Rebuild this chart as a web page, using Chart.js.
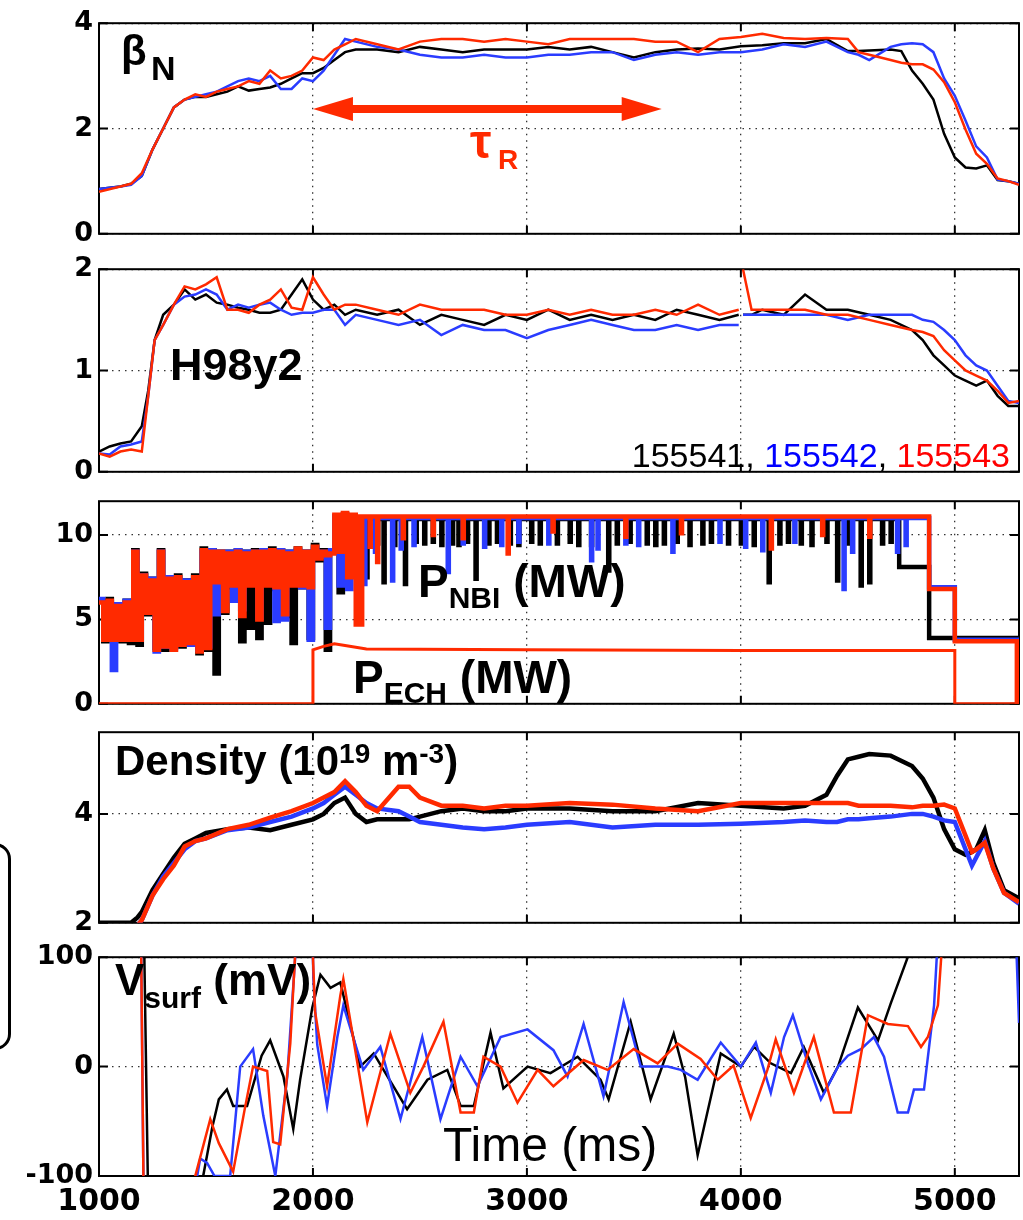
<!DOCTYPE html>
<html>
<head>
<meta charset="utf-8">
<script src="https://cdn.jsdelivr.net/npm/chart.js@4.4.1/dist/chart.umd.min.js"></script>
<style>
  body { margin: 0; background: #fff; width: 1023px; height: 1220px; overflow: hidden; position: relative;
         font-family: "Liberation Sans", Arial, sans-serif; }
  canvas { position: absolute; left: 0; }
  .lbl { position: absolute; line-height: 1; font-weight: bold; white-space: nowrap; color: #000; z-index: 5; }
  .bracket { position: absolute; left: -40px; top: 843px; width: 51px; height: 207px; box-sizing: border-box;
             border: 3px solid #000; border-radius: 16px; }
</style>
</head>
<body>
<div class="bracket"></div>

<div class="lbl" style="left:121px;top:30px;font-size:42px">β</div>
<div class="lbl" style="left:151px;top:51px;font-size:34px">N</div>
<div class="lbl" style="left:470px;top:118px;font-size:48px;color:#ff2a00">τ</div>
<div class="lbl" style="left:498px;top:146px;font-size:28px;color:#ff2a00">R</div>

<div class="lbl" style="left:170px;top:342px;font-size:45px">H98y2</div>
<div class="lbl" style="right:13px;top:438px;font-size:34px;font-weight:normal"><span style="color:#000">155541</span>, <span style="color:#0000ff">155542</span>, <span style="color:#ff0000">155543</span></div>

<div class="lbl" style="left:418px;top:558px;font-size:46px">P<span style="font-size:30px;position:relative;top:11px">NBI</span> (MW)</div>
<div class="lbl" style="left:353px;top:654px;font-size:46px">P<span style="font-size:30px;position:relative;top:10px">ECH</span> (MW)</div>

<div class="lbl" style="left:115px;top:740px;font-size:42px">Density (10<span style="font-size:28px;position:relative;top:-12px">19</span> m<span style="font-size:28px;position:relative;top:-12px">-3</span>)</div>

<div class="lbl" style="left:115px;top:958px;font-size:44px">V<span style="font-size:30px;position:relative;top:13px">surf</span> (mV)</div>
<div class="lbl" style="left:443px;top:1121px;font-size:48px;font-weight:normal">Time (ms)</div>

<script>
// time axis
var xMin = 1000, xMax = 5300;
var xTicks = [1000, 2000, 3000, 4000, 5000];

// beta_N
var betaTime = [1000,1100,1150,1200,1250,1300,1350,1400,1450,1500,1550,1600,1650,1700,1750,1800,1850,1900,1950,2000,2050,2100,2150,2200,
  2300,2400,2500,2600,2700,2800,2900,3000,3100,3200,3300,3400,3500,3600,3700,3800,3900,4000,4100,4200,4300,4400,4500,
  4550,4600,4700,4750,4800,4850,4900,4950,5000,5050,5100,5150,5200,5250,5300];
var betaBlack = [0.85,0.9,0.95,1.1,1.6,2.0,2.4,2.55,2.6,2.6,2.65,2.7,2.8,2.72,2.75,2.78,2.85,2.95,3.05,3.05,3.15,3.3,3.45,3.5,
  3.5,3.45,3.55,3.5,3.45,3.5,3.5,3.5,3.55,3.5,3.55,3.45,3.35,3.45,3.5,3.52,3.5,3.56,3.58,3.62,3.62,3.7,3.47,
  3.47,3.48,3.5,3.47,3.1,2.85,2.55,1.9,1.45,1.26,1.24,1.3,1.02,1.0,0.95];
var betaBlue = [0.85,0.9,0.93,1.1,1.6,2.0,2.4,2.55,2.6,2.65,2.7,2.8,2.9,2.95,2.9,3.0,2.75,2.75,2.95,2.9,3.1,3.4,3.7,3.65,
  3.55,3.5,3.4,3.35,3.35,3.4,3.35,3.35,3.4,3.4,3.45,3.45,3.3,3.4,3.45,3.4,3.45,3.45,3.5,3.6,3.55,3.65,3.45,
  3.4,3.3,3.55,3.6,3.62,3.6,3.45,2.95,2.62,2.15,1.66,1.45,1.03,1.0,0.95];
var betaRed = [0.8,0.9,0.95,1.15,1.6,2.0,2.4,2.55,2.65,2.6,2.7,2.75,2.8,2.9,2.85,3.1,2.95,3.0,3.1,3.35,3.3,3.5,3.6,3.7,
  3.6,3.5,3.65,3.7,3.7,3.65,3.7,3.65,3.6,3.7,3.7,3.7,3.7,3.65,3.65,3.45,3.7,3.74,3.8,3.72,3.7,3.72,3.7,
  3.45,3.4,3.3,3.25,3.22,3.22,3.12,2.88,2.5,1.98,1.52,1.33,1.05,1.0,0.93];
var betaTicks = [0, 2, 4];
var tauStart = 2000, tauEnd = 3630, tauLevel = 2.37;

// H98y2
var hTime = [1000,1050,1100,1150,1200,1230,1260,1300,1350,1400,1450,1500,1550,1600,1650,1700,1750,1800,1850,1900,1950,2000,2050,2100,2150,2200,
  2300,2400,2500,2600,2700,2800,2900,3000,3100,3200,3300,3400,3500,3600,3700,3800,3900,3990,4000,4010,4050,
  4100,4200,4300,4400,4500,4600,4700,4800,4850,4900,4950,5000,5050,5100,5150,5200,5250,5300];
var hBlack = [0.2,0.25,0.28,0.3,0.45,0.8,1.3,1.55,1.65,1.8,1.7,1.75,1.67,1.65,1.62,1.6,1.57,1.57,1.6,1.75,1.9,1.7,1.6,1.65,1.55,1.6,
  1.55,1.6,1.45,1.55,1.5,1.45,1.55,1.5,1.6,1.5,1.55,1.5,1.55,1.5,1.6,1.55,1.5,1.55,null,1.55,1.55,
  1.6,1.55,1.75,1.6,1.6,1.55,1.5,1.4,1.3,1.15,1.05,0.95,0.9,0.85,0.9,0.75,0.65,0.65];
var hBlue = [0.18,0.17,0.25,0.27,0.3,0.75,1.3,1.45,1.65,1.73,1.75,1.8,1.75,1.6,1.65,1.62,1.65,1.67,1.6,1.55,1.57,1.57,1.6,1.6,1.45,1.55,
  1.5,1.45,1.5,1.35,1.45,1.4,1.4,1.32,1.4,1.45,1.5,1.45,1.4,1.4,1.45,1.4,1.45,1.45,null,1.55,1.55,
  1.55,1.55,1.55,1.55,1.5,1.55,1.55,1.55,1.5,1.48,1.4,1.3,1.15,1.05,1.0,0.85,0.7,0.68];
var hRed = [0.18,0.15,0.2,0.22,0.2,0.75,1.3,1.45,1.65,1.83,1.8,1.85,1.92,1.6,1.6,1.57,1.65,1.7,1.8,1.62,1.6,1.92,1.75,1.6,1.65,1.65,
  1.6,1.55,1.65,1.6,1.6,1.6,1.55,1.55,1.6,1.55,1.6,1.55,1.55,1.6,1.55,1.65,1.55,1.6,null,2.0,1.6,
  1.6,1.6,1.6,1.55,1.55,1.5,1.45,1.4,1.38,1.34,1.2,1.1,1.0,0.95,0.9,0.8,0.68,0.7];
var hTicks = [0, 1, 2];

// P_NBI: modulated phase, then plateau with dips, then step-down tail
var nbiTime = [1000,1020,1040,1060,1080,1100,1120,1140,1160,1180,1200,1220,1240,1260,1280,1300,1320,1340,1360,1380,
  1400,1420,1440,1460,1480,1500,1520,1540,1560,1580,1600,1620,1640,1660,1680,1700,1720,1740,1760,1780,
  1800,1820,1840,1860,1880,1900,1920,1940,1960,1980,2000,2020,2040,2060,2080,2100,2120,2140,2160,2180,2200];
var nbiRedMod = [6.0,3.8,6.1,3.8,5.8,3.8,6.0,3.8,9.0,3.8,7.6,5.4,7.3,3.2,9.0,3.4,7.4,3.2,7.5,3.5,
  7.2,3.6,7.5,3.1,9.1,3.3,9.0,7.2,9.0,5.5,8.9,7.0,9.0,5.2,8.9,7.0,9.0,5.0,9.0,7.0,
  9.1,6.9,9.0,5.3,8.9,7.0,9.2,7.0,9.0,6.9,9.3,8.6,9.0,8.8,8.9,11.2,9.0,11.3,7.5,11.2,4.7];
var nbiBlueMod = [6.2,3.8,6.0,2.0,5.9,3.8,6.1,3.8,9.0,3.9,7.6,5.5,7.4,3.1,9.0,3.4,7.5,3.3,7.4,3.6,
  7.3,3.5,7.4,3.2,9.0,3.4,9.1,5.3,9.0,7.1,9.0,6.1,9.1,5.6,9.0,7.1,9.0,5.1,9.1,7.2,
  9.0,4.9,9.1,5.0,9.0,7.1,9.1,6.9,9.0,3.8,9.2,8.7,9.0,4.5,9.1,11.1,7.0,11.2,6.8,11.1,9.5];
var nbiBlackMod = [6.1,3.7,6.2,3.8,5.9,3.7,6.1,3.6,9.1,3.5,7.7,5.3,7.4,3.3,9.1,3.2,7.5,3.5,7.6,3.4,
  7.3,3.7,7.6,3.0,9.2,3.2,9.1,1.8,9.0,5.4,9.0,6.9,9.1,3.7,9.0,4.5,9.1,3.9,9.0,4.8,
  9.2,6.8,9.1,5.2,9.0,3.6,9.2,6.9,9.0,3.9,9.4,8.5,9.1,3.2,9.0,11.1,6.6,11.2,9.0,11.1,9.8];
var nbiPlateauStart = 2210;
var nbiRedPlateau = 11.1, nbiBluePlateau = 11.0, nbiBlackPlateau = 10.95;
var redDipTime = [2225,2265,2300,2420,2560,2700,2910,3120,3460,3720,4140,4380,4600];
var redDipVal  = [4.7,9.3,8.4,9.8,10.0,9.8,8.9,10.2,9.9,10.1,9.2,10.0,9.9];
var blueDipTime = [2240,2290,2370,2410,2470,2630,2700,2800,2880,2960,3100,3300,3330,3460,3520,3680,3900,4020,4100,4250,4480,4520,4730,4770];
var blueDipVal  = [7.1,9.0,7.3,9.2,9.4,7.8,9.5,9.3,9.4,9.6,9.5,8.5,9.2,9.5,9.4,9.0,9.6,9.3,9.1,9.6,6.8,9.0,9.0,9.4];
var blackDipTime = [2250,2300,2330,2380,2430,2480,2520,2560,2600,2650,2680,2720,2760,2820,2860,2920,2960,3020,3060,3140,
  3200,3240,3300,3380,3420,3480,3560,3600,3640,3700,3760,3820,3860,3940,4000,4060,4130,4180,4220,4280,4330,4400,4450,4500,4560,4600,4660,4700];
var blackDipVal  = [7.5,9.5,7.2,9.4,7.1,9.6,9.5,9.6,9.4,9.5,9.4,9.6,7.4,9.5,9.6,9.5,9.4,9.6,9.5,9.5,
  9.6,9.4,9.4,7.9,9.5,9.6,9.5,9.4,9.5,9.6,9.4,9.5,9.6,9.5,9.5,9.4,7.2,9.5,9.6,9.5,9.4,9.6,7.3,9.5,7.0,7.2,9.5,9.6];
var redTailTime = [4880,4880,5000,5000,5290,5290,5300];
var redTailVal  = [11.1,6.8,6.8,3.7,3.7,0,0];
var blueTailTime = [4880,4880,5000,5000,5300];
var blueTailVal  = [11.0,6.9,6.9,3.8,3.8];
var blackTailTime = [4740,4740,4880,4880,5300];
var blackTailVal  = [10.95,8.1,8.1,3.9,4.0];
var dipWidth = 5;

// P_ECH
var echTime = [1000,2000,2000,2050,2100,2150,2250,3000,4000,5000,5000,5300];
var echPower = [0,0,3.2,3.4,3.55,3.45,3.25,3.2,3.15,3.15,0,0];
var pTicks = [0, 5, 10];

// density
var nTime = [1000,1150,1180,1200,1250,1300,1350,1400,1450,1500,1600,1700,1800,1900,2000,2050,2100,2150,2200,2250,2300,
  2400,2450,2500,2600,2700,2800,2900,3000,3200,3400,3600,3800,4000,4200,4300,4400,4450,4500,4550,4600,4700,4800,
  4850,4900,4950,5000,5050,5080,5100,5140,5180,5230,5300];
var nBlack = [2.0,2.0,2.1,2.2,2.6,2.9,3.2,3.45,3.55,3.65,3.72,3.75,3.7,3.8,3.9,4.0,4.2,4.3,4.0,3.85,3.9,
  3.9,3.9,3.95,4.05,4.1,4.05,4.05,4.1,4.1,4.05,4.05,4.2,4.15,4.1,4.15,4.35,4.7,5.0,5.05,5.1,5.07,4.88,
  4.65,4.3,3.72,3.35,3.25,3.3,3.35,3.7,3.1,2.6,2.45];
var nBlue = [1.8,1.9,1.95,2.05,2.5,2.85,3.1,3.35,3.5,3.55,3.7,3.75,3.85,3.95,4.1,4.2,4.35,4.5,4.35,4.2,4.1,
  4.05,3.95,3.85,3.8,3.75,3.72,3.75,3.8,3.85,3.75,3.8,3.8,3.82,3.85,3.88,3.85,3.85,3.9,3.9,3.92,3.95,4.0,
  4.0,3.95,3.88,3.85,3.35,3.05,3.2,3.5,3.0,2.55,2.35];
var nRed = [1.8,1.9,1.95,2.05,2.5,2.8,3.05,3.4,3.5,3.55,3.72,3.8,3.93,4.05,4.2,4.3,4.4,4.6,4.4,4.15,4.05,
  4.5,4.5,4.3,4.15,4.15,4.1,4.15,4.15,4.2,4.17,4.1,4.05,4.2,4.2,4.2,4.2,4.2,4.2,4.15,4.15,4.15,4.12,
  4.15,4.15,4.17,4.1,3.6,3.3,3.35,3.47,3.0,2.55,2.38];
var nTicks = [2, 4];

// surface voltage (each shot sampled at its own turning points)
var vBlackTime = [1000,1200,1240,1470,1487,1530,1560,1598,1627,1692,1760,1800,1862,1908,1940,1997,2035,2082,2128,2221,2284,2330,
  2440,2535,2628,2690,2752,2830,2890,3003,3110,3237,3344,3382,3485,3578,3686,3740,3798,3906,4000,4062,4140,
  4234,4294,4388,4454,4547,4641,4701,4780,4850,5300];
var vBlack = [250,250,-250,-250,-100,-55,-30,-21,-36,-36,10,24,-9,-57,-12,54,84,72,77,0,12,-3,
  -39,-12,-3,-36,-36,31,-20,0,-6,9,-12,-30,41,-30,30,-10,-81,12,0,18,3,
  -6,18,-24,0,54,24,58,100,200,200];
var vBlueTime = [1000,1190,1215,1440,1459,1473,1505,1540,1613,1660,1720,1768,1824,1880,1917,1930,1990,2002,2020,2066,2114,2142,
  2235,2315,2409,2511,2596,2690,2769,2877,3003,3124,3190,3265,3358,3452,3532,3658,3719,3798,3906,4000,4070,
  4140,4202,4243,4313,4374,4454,4500,4561,4622,4669,4733,4781,4809,4856,4903,4930,5280,5300];
var vBlue = [250,250,-250,-250,-100,-84,-88,-100,-100,0,16,-45,-100,-9,100,200,200,80,20,-36,27,56,
  -3,18,-48,27,-48,9,-18,27,34,15,-9,39,-27,59,0,0,-3,-12,22,0,22,
  -24,27,47,3,-30,0,10,16,27,9,-42,-42,-21,-21,56,150,150,40];
var vRedTime = [1000,1190,1215,1430,1450,1520,1560,1627,1680,1720,1786,1814,1847,1894,1930,1990,2010,2066,2128,2142,2254,2362,
  2455,2516,2610,2690,2752,2797,2877,2956,3050,3124,3265,3377,3499,3611,3705,3812,3892,3966,4046,4124,4163,
  4248,4341,4435,4514,4594,4687,4781,4842,4874,4921,4940,4960,5300];
var vRed = [250,250,-250,-250,-100,-48,-70,-96,-40,0,-4,-69,-71,21,150,150,50,-18,65,80,-51,30,
  -24,0,41,-42,-42,9,0,-33,-3,-18,6,-3,16,3,21,7,-12,1,-47,-3,25,
  -24,27,-42,-42,47,39,37,18,27,56,110,250,250];
var vTicks = [-100, 0, 100];

var colBlack = '#000000', colBlue = '#2a3cff', colRed = '#ff2a00';
var gridColor = '#333333';

// pixel frame of each panel: [top, bottom] of the plot box
var boxes = [[19, 238], [265, 476], [497, 708], [728, 927], [953, 1176]];
var pad = 18;

function pts(t, v) {
  return t.map(function (x, i) { return { x: x, y: v[i] }; });
}

function nbiSeries(mod, plateau, dipT, dipV, tailT, tailV) {
  var data = pts(nbiTime, mod);
  data.push({ x: nbiPlateauStart, y: plateau });
  for (var i = 0; i < dipT.length; i++) {
    data.push({ x: dipT[i], y: plateau });
    data.push({ x: dipT[i], y: dipV[i] });
    data.push({ x: dipT[i] + dipWidth, y: dipV[i] });
    data.push({ x: dipT[i] + dipWidth, y: plateau });
  }
  return data.concat(pts(tailT, tailV));
}

// lower order is painted on top: red over blue over black
function line(data, color, order, width, stepped) {
  return { data: data, borderColor: color, borderWidth: width || 2.5, pointRadius: 0, fill: false,
           tension: 0, order: order, stepped: stepped || false };
}

// axis box and inward tick marks
var frame = {
  id: 'frame',
  beforeDatasetsDraw: function (chart) {
    var ctx = chart.ctx, a = chart.chartArea, sx = chart.scales.x, sy = chart.scales.y;
    ctx.save();
    ctx.strokeStyle = '#000';
    ctx.lineWidth = 2;
    ctx.strokeRect(a.left, a.top, a.right - a.left, a.bottom - a.top);
    ctx.beginPath();
    sx.ticks.forEach(function (t) {
      var px = sx.getPixelForValue(t.value);
      ctx.moveTo(px, a.bottom); ctx.lineTo(px, a.bottom - 8);
      ctx.moveTo(px, a.top); ctx.lineTo(px, a.top + 8);
    });
    sy.ticks.forEach(function (t) {
      var py = sy.getPixelForValue(t.value);
      ctx.moveTo(a.left, py); ctx.lineTo(a.left + 9, py);
      ctx.moveTo(a.right, py); ctx.lineTo(a.right - 9, py);
    });
    ctx.stroke();
    ctx.restore();
  }
};

var tauArrow = {
  id: 'tauArrow',
  afterDatasetsDraw: function (chart) {
    var ctx = chart.ctx, sx = chart.scales.x, sy = chart.scales.y;
    var x0 = sx.getPixelForValue(tauStart), x1 = sx.getPixelForValue(tauEnd), y = sy.getPixelForValue(tauLevel);
    var head = 40, half = 12, shaft = 4;
    ctx.save();
    ctx.fillStyle = colRed;
    ctx.beginPath();
    ctx.moveTo(x0, y);
    ctx.lineTo(x0 + head, y - half);
    ctx.lineTo(x0 + head, y - shaft);
    ctx.lineTo(x1 - head, y - shaft);
    ctx.lineTo(x1 - head, y - half);
    ctx.lineTo(x1, y);
    ctx.lineTo(x1 - head, y + half);
    ctx.lineTo(x1 - head, y + shaft);
    ctx.lineTo(x0 + head, y + shaft);
    ctx.lineTo(x0 + head, y + half);
    ctx.closePath();
    ctx.fill();
    ctx.restore();
  }
};

function makePanel(i, yMin, yMax, yTicks, datasets, extra) {
  var last = i === boxes.length - 1;
  var top = boxes[i][0] - pad;
  var cv = document.createElement('canvas');
  cv.width = 1023;
  cv.height = last ? 1220 - top : boxes[i][1] - boxes[i][0] + 2 * pad;
  cv.style.top = top + 'px';
  document.body.appendChild(cv);
  var tickFont = { family: 'DejaVu Sans', weight: 'bold', size: 27 };
  return new Chart(cv.getContext('2d'), {
    type: 'line',
    data: { datasets: datasets },
    options: {
      responsive: false,
      animation: false,
      events: [],
      layout: { padding: { top: pad, bottom: last ? 0 : pad, left: 0, right: 4 } },
      plugins: { legend: { display: false }, tooltip: { enabled: false } },
      scales: {
        x: {
          type: 'linear', min: xMin, max: xMax,
          afterBuildTicks: function (s) { s.ticks = xTicks.map(function (v) { return { value: v }; }); },
          afterFit: function (s) { s.height = last ? 1220 - boxes[i][1] : 0; },
          grid: { drawTicks: false, color: gridColor, lineWidth: 1.3 },
          border: { display: false, dash: [1.5, 5] },
          ticks: {
            display: last, padding: 8, color: '#000', autoSkip: false, maxRotation: 0,
            font: { family: 'DejaVu Sans', weight: 'bold', size: 30 },
            callback: function (v) { return String(v); }
          }
        },
        y: {
          type: 'linear', min: yMin, max: yMax,
          afterBuildTicks: function (s) { s.ticks = yTicks.map(function (v) { return { value: v }; }); },
          afterFit: function (s) { s.width = 99; },
          grid: { drawTicks: false, color: gridColor, lineWidth: 1.3 },
          border: { display: false, dash: [1.5, 5] },
          ticks: { padding: 6, color: '#000', font: tickFont, callback: function (v) { return String(v); } }
        }
      }
    },
    plugins: [frame].concat(extra || [])
  });
}

makePanel(0, 0, 4, betaTicks, [
  line(pts(betaTime, betaBlack), colBlack, 3),
  line(pts(betaTime, betaBlue), colBlue, 2),
  line(pts(betaTime, betaRed), colRed, 1)
], [tauArrow]);

makePanel(1, 0, 2, hTicks, [
  line(pts(hTime, hBlack), colBlack, 3),
  line(pts(hTime, hBlue), colBlue, 2),
  line(pts(hTime, hRed), colRed, 1)
]);

makePanel(2, 0, 12, pTicks, [
  line(nbiSeries(nbiBlackMod, nbiBlackPlateau, blackDipTime, blackDipVal, blackTailTime, blackTailVal), colBlack, 3, 4.5, true),
  line(nbiSeries(nbiBlueMod, nbiBluePlateau, blueDipTime, blueDipVal, blueTailTime, blueTailVal), colBlue, 2, 4.5, true),
  line(nbiSeries(nbiRedMod, nbiRedPlateau, redDipTime, redDipVal, redTailTime, redTailVal), colRed, 1, 4.5, true),
  line(pts(echTime, echPower), colRed, 0, 3)
]);

makePanel(3, 2, 5.5, nTicks, [
  line(pts(nTime, nBlack), colBlack, 3, 4.5),
  line(pts(nTime, nBlue), colBlue, 2, 4.5),
  line(pts(nTime, nRed), colRed, 1, 4.5)
]);

makePanel(4, -100, 100, vTicks, [
  line(pts(vBlackTime, vBlack), colBlack, 3),
  line(pts(vBlueTime, vBlue), colBlue, 2),
  line(pts(vRedTime, vRed), colRed, 1)
]);
</script>
</body>
</html>
